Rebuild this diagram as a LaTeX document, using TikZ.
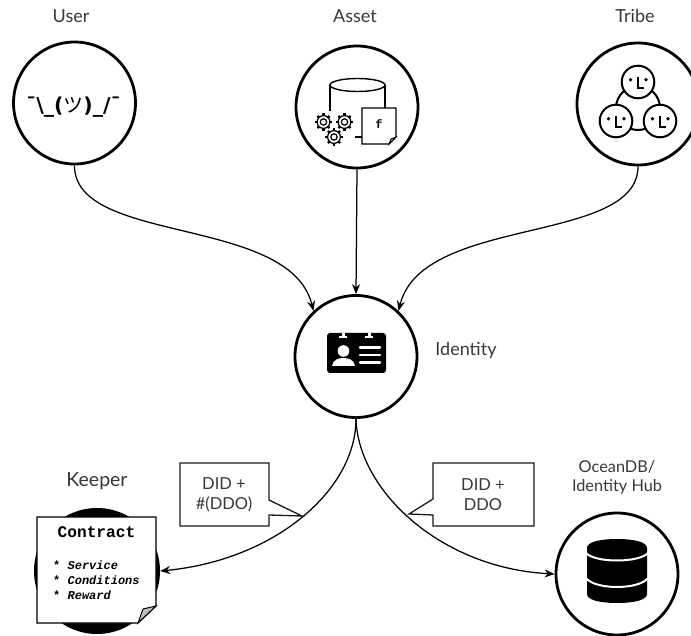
\documentclass[tikz,border=0pt]{standalone}
\usepackage{fontspec}
\usetikzlibrary{arrows.meta,calc}
\setmainfont{Lato}
\newfontfamily\shrugfont{DejaVu Sans}
\newfontfamily\kata{Noto Sans CJK JP}
\newfontfamily\cmono{Liberation Mono}
\newcommand{\gearicon}[2]{%
  \foreach \a in {0,45,...,315}{\draw[line width=2.2pt,rotate around={\a:(#1,#2)}] ($(#1,#2)+(0,-6)$) -- ($(#1,#2)+(0,-8.6)$);}
  \draw[line width=1.2pt] (#1,#2) circle[radius=6.4];
  \draw[line width=1.2pt] (#1,#2) circle[radius=3.2];
}
\newcommand{\faceicon}[2]{%
  \fill[white] (#1,#2) circle[radius=16.3];
  \draw[line width=2pt] (#1,#2) circle[radius=16.3];
  \fill ($(#1,#2)+(-7.5,-2.2)$) circle[radius=1.9];
  \fill ($(#1,#2)+(8,-2.2)$) circle[radius=1.9];
  \draw[line width=2.4pt] ($(#1,#2)+(0,-4.5)$) -- ($(#1,#2)+(0,6)$) -- ($(#1,#2)+(6,6)$);
}
\tikzset{
  x=1pt,y=-1pt,
  bigcirc/.style={circle,draw=black,line width=2.8pt,minimum size=122pt,inner sep=0pt,fill=white},
  lbl/.style={font=\fontsize{18}{20}\selectfont,text=black!78,inner sep=0pt,align=center},
  calloutlbl/.style={font=\fontsize{16.5}{20}\selectfont,text=black!78,inner sep=0pt,align=center},
  conn/.style={line width=1.25pt,-{Stealth[length=10pt,width=8pt]}},
  callout/.style={draw=black!90,line width=1.3pt,fill=white,line join=miter},
  mono/.style={font=\cmono\bfseries\fontsize{12}{14}\selectfont,inner sep=0pt},
}
\begin{document}
\begin{tikzpicture}
\useasboundingbox (0,0) rectangle (691,636);
% circles
\node[bigcirc] (user) at (74.5,103) {};
\node[bigcirc] (asset) at (357,107) {};
\node[bigcirc] (tribe) at (638,104) {};
\node[bigcirc] (identity) at (356,356.5) {};
\node[bigcirc] (db) at (617,574) {};
\node[circle,fill=black,minimum size=126pt,inner sep=0pt] (keeper) at (97,571) {};
% connectors
\draw[conn] (user.south) .. controls (74,245) and (290,215) .. (identity.133);
\draw[conn] (asset.south) -- (identity.north);
\draw[conn] (tribe.south) .. controls (638,245) and (422,215) .. (identity.47);
% callouts
\draw[callout] (180,463) -- (269,463) -- (269,500) -- (302,516) -- (269,515) -- (269,526) -- (180,526) -- cycle;
\draw[callout] (534,463) -- (433,463) -- (433,499) -- (409,514) -- (433,515) -- (433,526) -- (534,526) -- cycle;
% paper
\draw[line width=1.2pt,fill=white] (37,517) -- (156,517) -- (156,606) -- (138,623) -- (37,623) -- cycle;
\draw[line width=1pt,fill=black!25] (156,606) -- (138,623) -- (143,609) -- cycle;
\draw[conn] (identity.south) .. controls (356,490) and (275,560) .. (keeper.east);
\draw[conn] (identity.south) .. controls (358,490) and (440,568) .. (db.west);
% labels
\node[lbl] (luser) at (71,16) {User};
\node[lbl] (lasset) at (355,16) {Asset};
\node[lbl] (ltribe) at (635,16) {Tribe};
\node[lbl] (lid) at (466,350) {Identity};
\node[lbl,font=\fontsize{19.5}{22}\selectfont] (lkeeper) at (97,481) {Keeper};
\node[lbl,font=\fontsize{16.3}{19}\selectfont] (locean) at (617,477) {OceanDB/\\Identity Hub};
\node[calloutlbl] (c1) at (224,495) {DID +\\\#(DDO)};
\node[calloutlbl] (c2) at (483,495) {DID +\\DDO};
% shrug
\node[inner sep=0pt,font=\shrugfont\bfseries\fontsize{20.5}{24}\selectfont] (shrug) at (73.5,107.5) {¯\textbackslash\_({\kata\mdseries\fontsize{20}{22}\selectfont ツ})\_/¯};
% asset icon
\draw[line width=1.4pt] (330,111) -- (330,85);
\draw[line width=1.4pt] (385,85) -- (385,108);
\draw[line width=1.4pt] (357.5,85) ellipse[x radius=27.5,y radius=6.5];
\draw[line width=1.4pt] (355,137) -- (362,137);
\draw[line width=1.4pt,fill=white] (362,108) -- (396,108) -- (396,137) -- (389,144) -- (362,144) -- cycle;
\draw[line width=.9pt,fill=black!25] (396,137) -- (389,144) -- (391,139) -- cycle;
\node[mono] (ficon) at (379,124) {f};
\gearicon{323.5}{122}
\gearicon{344.5}{122}
\gearicon{334}{137}
% tribe icon
\draw[line width=2pt] (638,108) circle[radius=22];
\faceicon{638}{82}
\faceicon{616}{121}
\faceicon{660}{121}
% id card
\fill[rounded corners=3pt] (327,333) rectangle (386,373);
\fill[white] (341.7,333) rectangle (344.7,336);
\fill[white] (339,336) rectangle (347,338);
\fill[white] (367.7,333) rectangle (370.7,336);
\fill[white] (365,336) rectangle (373,338);
\fill[white] (343.5,351) circle[radius=5.8];
\fill[white] (332,366) .. controls (333,360) and (338,358) .. (343.5,358) .. controls (349,358) and (354,360) .. (355,366) -- cycle;
\foreach \yy in {347.7,355,362.7}{\draw[white,line width=2.5pt,line cap=round] (360,\yy) -- (380,\yy);}
% database
\fill (587,548) .. controls (587,542) and (600,539) .. (617,539) .. controls (634,539) and (647,542) .. (647,548) -- (647,594) .. controls (647,600) and (634,603) .. (617,603) .. controls (600,603) and (587,600) .. (587,594) -- cycle;
\draw[white,line width=2pt] (586,553) .. controls (595,563) and (639,563) .. (648,553);
\draw[white,line width=2pt] (586,578) .. controls (595,590) and (639,590) .. (648,578);
% contract
\node[mono,font=\cmono\bfseries\fontsize{16.2}{18}\selectfont] (ctitle) at (96.5,532) {Contract};
\node[mono,anchor=west] (i1) at (53,565) {* \textit{Service}};
\node[mono,anchor=west] (i2) at (53,580) {* \textit{Conditions}};
\node[mono,anchor=west] (i3) at (53,595) {* \textit{Reward}};
\end{tikzpicture}
\end{document}
